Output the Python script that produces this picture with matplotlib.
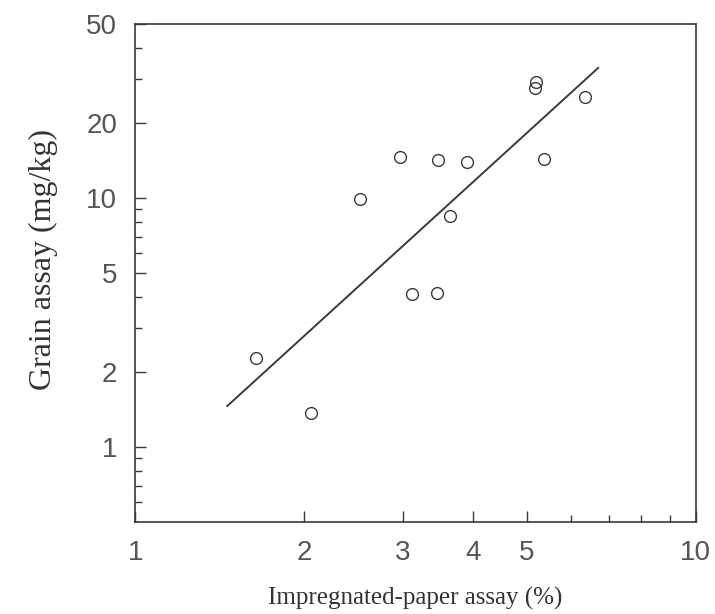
import matplotlib
matplotlib.use("Agg")
import matplotlib.pyplot as plt
from matplotlib.ticker import FixedLocator, NullFormatter

# impregnated-paper assay (%) vs grain assay (mg/kg)
paper_pct = [1.64, 2.06, 2.52, 2.97, 3.47, 3.91, 3.12, 3.45, 3.64, 5.18, 5.16, 5.36, 6.34]
grain_mgkg = [2.28, 1.37, 9.9, 14.6, 14.2, 14.0, 4.12, 4.15, 8.5, 29.2, 27.7, 14.4, 25.5]

# fitted line end points
fit_x = [1.46, 6.7]
fit_y = [1.46, 33.3]

x_major = [1, 2, 3, 4, 5, 10]
x_minor = [6, 7, 8, 9]
y_major = [1, 2, 5, 10, 20, 50]
y_minor = [0.6, 0.7, 0.8, 0.9, 3, 4, 6, 7, 8, 9, 30, 40]

ink = "#3a3a3a"

fig = plt.figure(figsize=(7.15, 6.14), dpi=100)
ax = fig.add_axes([0.189, 0.150, 0.784, 0.811])

ax.plot(fit_x, fit_y, color=ink, lw=1.4)
ax.plot(paper_pct, grain_mgkg, "o", ms=8.5, mfc="none", mec=ink, mew=1.0)

ax.set_xscale("log")
ax.set_yscale("log")
ax.set_xlim(1, 10)
ax.set_ylim(0.5, 50)

ax.xaxis.set_major_locator(FixedLocator(x_major))
ax.xaxis.set_minor_locator(FixedLocator(x_minor))
ax.yaxis.set_major_locator(FixedLocator(y_major))
ax.yaxis.set_minor_locator(FixedLocator(y_minor))
ax.set_xticklabels([str(v) for v in x_major])
ax.set_yticklabels([str(v) for v in y_major])
ax.xaxis.set_minor_formatter(NullFormatter())
ax.yaxis.set_minor_formatter(NullFormatter())

ax.tick_params(which="both", direction="in", color=ink, width=1.0,
               top=False, right=False)
ax.tick_params(which="major", length=8, pad=13, labelsize=20, labelcolor="#555555")
ax.tick_params(which="minor", length=5)
for lab in ax.get_xticklabels() + ax.get_yticklabels():
    lab.set_family("Liberation Sans")

for s in ax.spines.values():
    s.set_color(ink)
    s.set_linewidth(1.2)

ax.set_xlabel("Impregnated-paper assay (%)", family="Liberation Serif",
              fontsize=18, color="#333333", labelpad=15)
ax.set_ylabel("Grain assay (mg/kg)", family="Liberation Serif",
              fontsize=23, color="#333333")
ax.yaxis.set_label_coords(-0.138, 0.526)

fig.savefig("out.png", dpi=100)
